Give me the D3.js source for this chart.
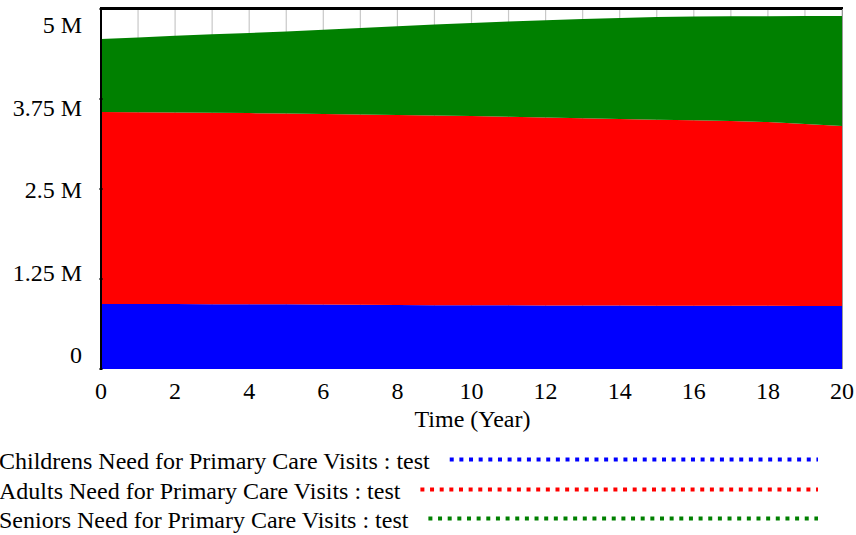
<!DOCTYPE html>
<html>
<head>
<meta charset="utf-8">
<script src="https://cdn.jsdelivr.net/npm/d3@7"></script>
<style>
  html, body { margin: 0; padding: 0; background: #fff; }
  svg { display: block; }
  text { font-family: "Liberation Serif", "Times New Roman", serif; fill: #000; }
</style>
</head>
<body>
<svg id="chart" width="856" height="535"></svg>
<script>
// ---- data ----
const years = [0,1,2,3,4,5,6,7,8,9,10,11,12,13,14,15,16,17,18,19,20];
const childrens = [0.903,0.903,0.902,0.901,0.900,0.898,0.895,0.892,0.889,0.887,0.885,0.884,0.883,0.882,0.881,0.880,0.879,0.878,0.877,0.876,0.875].map(v => v * 1e6);
const adults = [2.666,2.663,2.660,2.657,2.654,2.651,2.648,2.644,2.640,2.635,2.629,2.619,2.610,2.601,2.591,2.583,2.575,2.566,2.553,2.527,2.500].map(v => v * 1e6);
const seniors = [1.014,1.039,1.065,1.090,1.114,1.139,1.170,1.201,1.231,1.261,1.292,1.322,1.350,1.377,1.404,1.426,1.441,1.455,1.471,1.499,1.528].map(v => v * 1e6);
const seriesNames = ["Childrens Need for Primary Care Visits : test", "Adults Need for Primary Care Visits : test", "Seniors Need for Primary Care Visits : test"];
const seriesColors = ["#0000ff", "#ff0000", "#008000"];
const yTickValues = [0, 1250000, 2500000, 3750000, 5000000];
const yTickLabels = ["0", "1.25 M", "2.5 M", "3.75 M", "5 M"];
const xTickValues = [0,2,4,6,8,10,12,14,16,18,20];
const xTitle = "Time (Year)";

// ---- layout ----
const svg = d3.select("#chart");
const pLeft = 101, pRight = 842, pTop = 9, pBottom = 369;
const x = d3.scaleLinear().domain([0, 20]).range([pLeft, pRight]);
const y = d3.scaleLinear().domain([0, 5000000]).range([pBottom, pTop]);
const yLabel = d3.scaleLinear().domain([0, 5000000]).range([363, 33]);
const fs = 24;

const table = years.map((t, i) => ({ t, c: childrens[i], a: adults[i], s: seniors[i] }));
const stack = d3.stack().keys(["c", "a", "s"]);
const layers = stack(table);

// grid (vertical, each year)
svg.append("g").selectAll("line").data(years).join("line")
  .attr("x1", d => x(d)).attr("x2", d => x(d))
  .attr("y1", pTop).attr("y2", pBottom)
  .attr("stroke", "#c8c8c8").attr("stroke-width", 1.2);

// areas
const area = d3.area()
  .x(d => x(d.data.t))
  .y0(d => y(d[0]))
  .y1(d => y(d[1]));
svg.append("g").selectAll("path").data(layers).join("path")
  .attr("d", area)
  .attr("fill", (d, i) => seriesColors[i]);

// frame
svg.append("line").attr("x1", pLeft).attr("x2", pRight + 1).attr("y1", pTop - 0.5).attr("y2", pTop - 0.5)
  .attr("stroke", "#000").attr("stroke-width", 3);
svg.append("line").attr("x1", pRight + 0.5).attr("x2", pRight + 0.5).attr("y1", pTop).attr("y2", pBottom)
  .attr("stroke", "#999").attr("stroke-width", 1);
svg.append("line").attr("x1", pLeft).attr("x2", pLeft).attr("y1", pTop - 2).attr("y2", pBottom + 1)
  .attr("stroke", "#000").attr("stroke-width", 2);

// y ticks
svg.append("g").selectAll("line").data(yTickValues).join("line")
  .attr("x1", pLeft - 2).attr("x2", pLeft + 2)
  .attr("y1", d => y(d)).attr("y2", d => y(d))
  .attr("stroke", "#000").attr("stroke-width", 1);

// y labels
svg.append("g").selectAll("text").data(yTickValues).join("text")
  .attr("x", 82).attr("y", d => yLabel(d))
  .attr("text-anchor", "end")
  .attr("font-size", fs)
  .text((d, i) => yTickLabels[i]);

// x labels
svg.append("g").selectAll("text").data(xTickValues).join("text")
  .attr("x", d => x(d)).attr("y", 399)
  .attr("text-anchor", "middle")
  .attr("font-size", fs)
  .text(d => d);

svg.append("text").attr("x", (x(8) + x(12)) / 2 + 1).attr("y", 427)
  .attr("text-anchor", "middle").attr("font-size", fs).text(xTitle);

// legend
const legendEnd = 818;
const legendBase = [469, 499, 528];
seriesNames.forEach((name, i) => {
  const t = svg.append("text").attr("x", -1).attr("y", legendBase[i])
    .attr("font-size", fs).text(name);
  const w = t.node().getComputedTextLength();
  svg.append("line")
    .attr("x1", -1 + w + 20).attr("x2", legendEnd)
    .attr("y1", legendBase[i] - 9.5).attr("y2", legendBase[i] - 9.5)
    .attr("stroke", seriesColors[i]).attr("stroke-width", 4)
    .attr("stroke-dasharray", "4,5.65");
});
</script>
</body>
</html>
